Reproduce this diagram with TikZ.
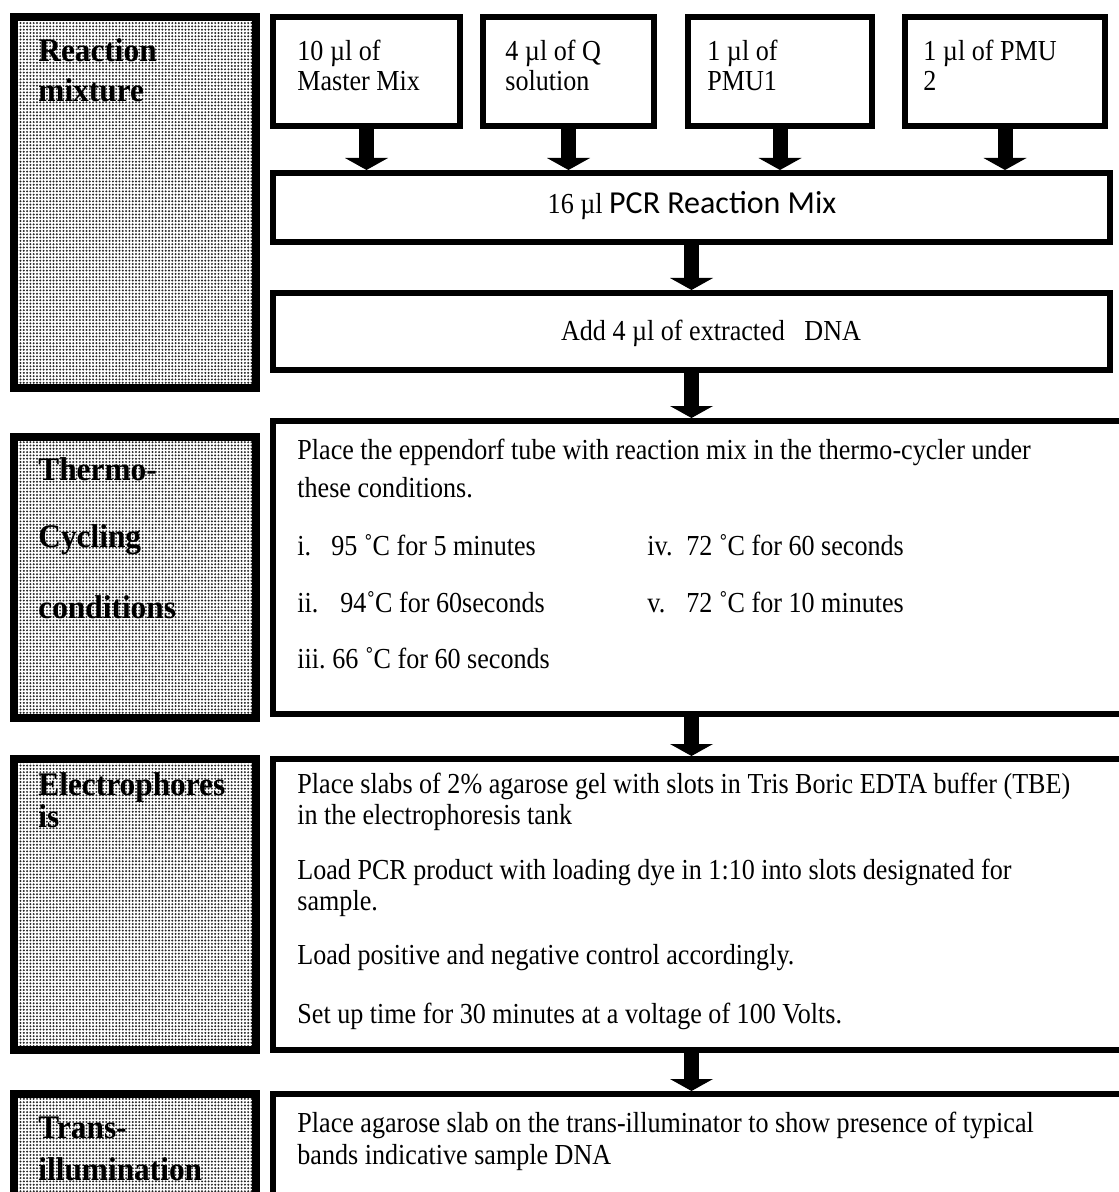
\documentclass[tikz,border=0pt]{standalone}
\usepackage{fontspec}
\setmainfont[FakeStretch=0.9]{Liberation Serif}
\newfontfamily\sidefont[FakeStretch=0.95]{Liberation Serif}
\newfontfamily\pcrfont{Carlito}
\usepackage{tikz}
\usetikzlibrary{arrows.meta,patterns}
% fine halftone used for the stage panels
\pgfdeclarepatternformonly{finedots}{\pgfqpoint{-0.5pt}{-0.5pt}}{\pgfqpoint{1.2pt}{1.2pt}}{\pgfqpoint{1.65pt}{1.65pt}}%
  {\pgfpathcircle{\pgfqpoint{0.35pt}{0.35pt}}{0.55pt}\pgfusepath{fill}}
\newcommand{\bodyfont}{\fontsize{14.5}{17}\selectfont}
\newcommand{\sidesize}{\fontsize{16.5}{18}\selectfont}

\begin{document}
\begin{tikzpicture}[x=0.5pt,y=-0.5pt,
    sidebox/.style={draw,line width=4pt,pattern=finedots,pattern color=black!85,
      minimum width=121pt,inner sep=0pt},
    stepbox/.style={draw,line width=3pt,fill=white,inner sep=0pt},
    flow/.style={line width=7.5pt,-{Triangle[width=21.5pt,length=6pt,line width=0pt]}},
    txt/.style={anchor=base west,inner sep=0pt,font=\bodyfont},
    side/.style={anchor=base west,inner sep=0pt,font=\sidefont\bfseries\sidesize}]
  \useasboundingbox (0,0) rectangle (1118,1192);
  % stage panels (1 unit = 1 px of the page)
  \node[sidebox,minimum height=185.5pt] (mixpanel)   at (135,202.5) {};
  \node[sidebox,minimum height=140.5pt] (cyclepanel) at (135,577.5) {};
  \node[sidebox,minimum height=145.5pt] (elecpanel)  at (135,904.5) {};
  \node[sidebox,minimum height=53pt]    (transpanel) at (135,1147) {};
  \node[side] (h1) at (38,62) {Reaction};
  \node[side] (h2) at (38,102) {mixture};
  \node[side] (h3) at (38,480) {Thermo-};
  \node[side] (h4) at (38,547) {Cycling};
  \node[side] (h5) at (38,618) {conditions};
  \node[side] (h6) at (38,795) {Electrophores};
  \node[side] (h7) at (38,827) {is};
  \node[side] (h8) at (38,1138) {Trans-};
  \node[side] (h9) at (38,1180) {illumination};
  % reagent boxes: name/centre x/width/text x/first line/second line
  \foreach \n/\x/\w/\tx/\a/\b in {mm/366.5/93.5/297/{10 µl of}/{Master Mix},
      qs/568.5/85.5/505/{4 µl of Q}/{solution},
      p1/780/92/707/{1 µl of}/{PMU1},
      p2/1005/100/923/{1 µl of PMU}/{2}}
    {\node[stepbox,minimum width=\w pt,minimum height=54.5pt] (\n) at (\x,71.5) {};
     \node[txt] (\n a) at (\tx,61) {\a};
     \node[txt] (\n b) at (\tx,91) {\b};}
  % mix and DNA
  \node[stepbox,minimum width=418.5pt,minimum height=34.5pt] (pcr) at (691.5,207.5) {};
  \node[anchor=base,inner sep=0pt,font=\bodyfont] (pcrtxt) at (692,214) {16 µl {\pcrfont\fontsize{16}{18}\selectfont PCR Reaction Mix}};
  \node[stepbox,minimum width=418.5pt,minimum height=38.5pt] (dna) at (691.5,331.5) {};
  \node[anchor=base,inner sep=0pt,font=\bodyfont] (dnatxt) at (711,340) {Add 4 µl of extracted\ \ \ DNA};
  % thermo-cycling
  \node[stepbox,minimum width=424.5pt,minimum height=146.5pt] (therm) at (697.5,567.5) {};
  \node[txt] (th1) at (297,459) {Place the eppendorf tube with reaction mix in the thermo-cycler under};
  \node[txt] (th2) at (297,497) {these conditions.};
  \foreach \l/\lx/\vx/\y/\t [count=\i] in {i./297/331/555/{95 ˚C for 5 minutes},
      ii./297/340/612/{94˚C for 60seconds},
      iii./297/332/668/{66 ˚C for 60 seconds},
      iv./647/686/555/{72 ˚C for 60 seconds},
      v./647/686/612/{72 ˚C for 10 minutes}}
    {\node[txt] (lab\i) at (\lx,\y) {\l};
     \node[txt] (cond\i) at (\vx,\y) {\t};}
  % electrophoresis
  \node[stepbox,minimum width=424.5pt,minimum height=145.5pt] (elec) at (697.5,904.5) {};
  \foreach \y/\t [count=\i] in {793/{Place slabs of 2\% agarose gel with slots in Tris Boric EDTA buffer (TBE)},
      824/{in the electrophoresis tank},
      879/{Load PCR product with loading dye in 1:10 into slots designated for},
      910/{sample.},
      964/{Load positive and negative control accordingly.},
      1023/{Set up time for 30 minutes at a voltage of 100 Volts.}}
    {\node[txt] (el\i) at (297,\y) {\t};}
  % trans-illumination
  \node[stepbox,minimum width=424.5pt,minimum height=53pt] (trans) at (697.5,1147) {};
  \node[txt] (tr1) at (297,1132) {Place agarose slab on the trans-illuminator to show presence of typical};
  \node[txt] (tr2) at (297,1164) {bands indicative sample DNA};
  % arrows
  \foreach \n in {mm,qs,p1,p2}
    {\draw[flow] (\n.south) -- (\n.south |- pcr.north);}
  \draw[flow] (pcr.south) -- (dna.north);
  \draw[flow] (dna.south) -- (dna.south |- therm.north);
  \draw[flow] (therm.south -| dna.south) -- (dna.south |- elec.north);
  \draw[flow] (elec.south -| dna.south) -- (dna.south |- trans.north);
\end{tikzpicture}
\end{document}
